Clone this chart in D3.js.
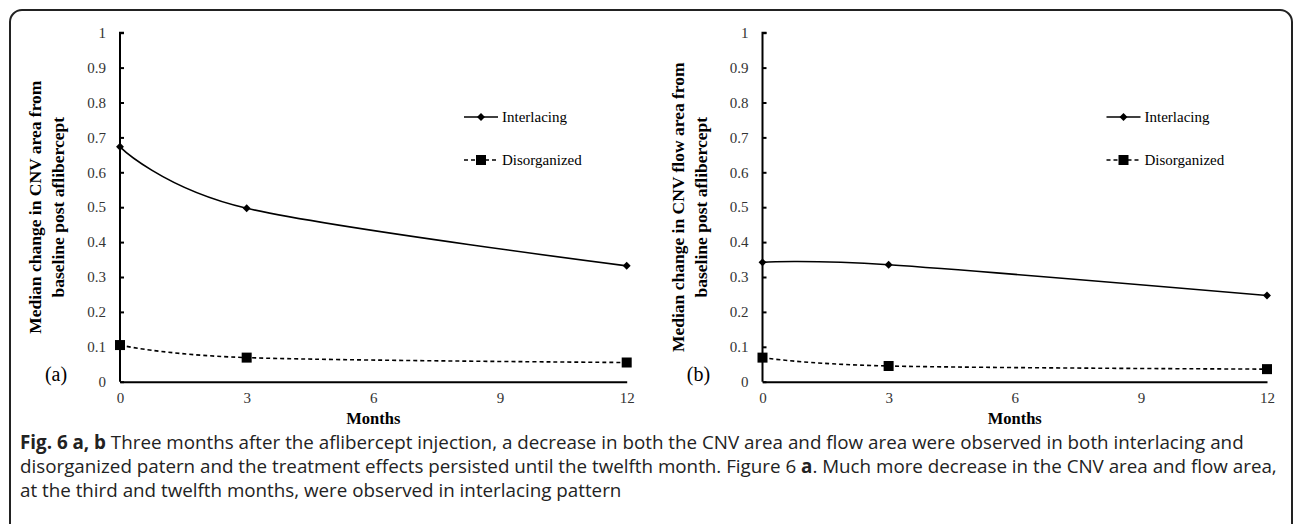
<!DOCTYPE html>
<html lang="en">
<head>
    <meta charset="utf-8" />
    <title>CNV area and flow area after aflibercept</title>
    <script src="https://d3js.org/d3.v7.min.js"></script>
    <style>
        body {
            margin: 0;
            background: white;
        }
        .serif {
            font-family: 'Liberation Serif', 'Times New Roman', serif;
        }
        .caption {
            font-family: 'Open Sans', sans-serif;
            font-size: 18.8px;
            fill: #222;
        }
    </style>
</head>
<body>
    <script>

        // Months on the x axis
        const months = [0, 3, 12];
        const xTickValues = [0, 3, 6, 9, 12];
        const yTickValues = [0, 0.1, 0.2, 0.3, 0.4, 0.5, 0.6, 0.7, 0.8, 0.9, 1];
        const yTickLabels = ["0", "0.1", "0.2", "0.3", "0.4", "0.5", "0.6", "0.7", "0.8", "0.9", "1"];

        // Panel (a): CNV area
        const interlacingArea = [0.673, 0.497, 0.332];
        const disorganizedArea = [0.105, 0.069, 0.055];

        // Panel (b): CNV flow area
        const interlacingFlow = [0.342, 0.335, 0.247];
        const disorganizedFlow = [0.069, 0.045, 0.036];

        const seriesNames = ["Interlacing", "Disorganized"];

        const width = 1295;
        const height = 524;

        const svg = d3.select("body")
            .append("svg")
            .attr("width", width)
            .attr("height", height);

        // Rounded frame round the figure and caption
        svg.append("rect")
            .attr("x", 10)
            .attr("y", 10)
            .attr("width", 1282)
            .attr("height", 560)
            .attr("rx", 12)
            .attr("fill", "none")
            .attr("stroke", "#222")
            .attr("stroke-width", 2);

        const yScale = d3.scaleLinear()
            .domain([0, 1])
            .range([381.7, 32.7]);

        function drawPanel(left, right, interlacing, disorganized, titleLines, letter) {
            const g = svg.append("g").attr("class", "serif");

            const xScale = d3.scaleLinear()
                .domain([0, 12])
                .range([left, right]);

            // Y axis with inside ticks
            const yAxis = d3.axisRight(yScale)
                .tickValues(yTickValues)
                .tickSize(4)
                .tickFormat("");
            const yg = g.append("g")
                .attr("transform", `translate(${left},0)`)
                .call(yAxis);
            yg.select(".domain")
                .attr("d", `M4,${yScale(1)}H0V${yScale(0)}`)
                .attr("stroke", "black")
                .attr("stroke-width", 2);
            yg.selectAll(".tick line").attr("stroke-width", 2);

            g.selectAll(".ylab")
                .data(yTickValues)
                .enter()
                .append("text")
                .attr("class", "ylab")
                .attr("x", left - 14)
                .attr("y", d => yScale(d))
                .attr("dy", "0.35em")
                .attr("text-anchor", "end")
                .attr("font-size", 15)
                .attr("fill", "#333")
                .text((d, i) => yTickLabels[i]);

            // X axis without ticks
            const xAxis = d3.axisBottom(xScale)
                .tickValues(xTickValues)
                .tickSize(0)
                .tickPadding(11);
            const xg = g.append("g")
                .attr("transform", `translate(0,${yScale(0)})`)
                .call(xAxis);
            xg.select(".domain")
                .attr("stroke", "black")
                .attr("stroke-width", 2);
            xg.selectAll("text")
                .attr("font-family", "'Liberation Serif', serif")
                .attr("font-size", 15)
                .attr("fill", "#333");

            g.append("text")
                .attr("x", (left + right) / 2)
                .attr("y", 424)
                .attr("text-anchor", "middle")
                .attr("font-size", 16.5)
                .attr("font-weight", "bold")
                .text("Months");

            // Y axis title on two lines
            const midY = (yScale(0) + yScale(1)) / 2;
            titleLines.forEach((line, i) => {
                g.append("text")
                    .attr("transform", `translate(${left - 85 + i * 23},${midY}) rotate(-90)`)
                    .attr("text-anchor", "middle")
                    .attr("dy", "0.35em")
                    .attr("font-size", 17.5)
                    .attr("font-weight", "bold")
                    .text(line);
            });

            g.append("text")
                .attr("x", left - 64)
                .attr("y", 374)
                .attr("dy", "0.35em")
                .attr("text-anchor", "middle")
                .attr("font-size", 20)
                .text(letter);

            const line = d3.line()
                .x((d, i) => xScale(months[i]))
                .y(d => yScale(d))
                .curve(d3.curveCardinal.tension(0));

            g.append("path")
                .datum(interlacing)
                .attr("d", line)
                .attr("fill", "none")
                .attr("stroke", "black")
                .attr("stroke-width", 1.6);

            g.append("path")
                .datum(disorganized)
                .attr("d", line)
                .attr("fill", "none")
                .attr("stroke", "black")
                .attr("stroke-width", 1.6)
                .attr("stroke-dasharray", "4,3");

            // Diamond markers
            g.selectAll(".diamond")
                .data(interlacing)
                .enter()
                .append("path")
                .attr("class", "diamond")
                .attr("d", d3.symbol(d3.symbolDiamond2, 40))
                .attr("transform", (d, i) => `translate(${xScale(months[i])},${yScale(d)})`)
                .attr("fill", "black");

            // Square markers
            g.selectAll(".square")
                .data(disorganized)
                .enter()
                .append("rect")
                .attr("class", "square")
                .attr("x", (d, i) => xScale(months[i]) - 5)
                .attr("y", d => yScale(d) - 5)
                .attr("width", 10)
                .attr("height", 10)
                .attr("fill", "black");

            // Legend
            const lx = left + 344;
            const legend = g.append("g");
            legend.append("line")
                .attr("x1", lx).attr("x2", lx + 34)
                .attr("y1", 117).attr("y2", 117)
                .attr("stroke", "black").attr("stroke-width", 1.6);
            legend.append("path")
                .attr("d", d3.symbol(d3.symbolDiamond2, 40))
                .attr("transform", `translate(${lx + 17},117)`);
            legend.append("text")
                .attr("x", lx + 38).attr("y", 117)
                .attr("dy", "0.35em")
                .attr("font-size", 15)
                .text(seriesNames[0]);

            legend.append("line")
                .attr("x1", lx).attr("x2", lx + 34)
                .attr("y1", 160).attr("y2", 160)
                .attr("stroke", "black").attr("stroke-width", 1.6)
                .attr("stroke-dasharray", "4,3");
            legend.append("rect")
                .attr("x", lx + 12).attr("y", 155)
                .attr("width", 10).attr("height", 10);
            legend.append("text")
                .attr("x", lx + 38).attr("y", 160)
                .attr("dy", "0.35em")
                .attr("font-size", 15)
                .text(seriesNames[1]);
        }

        drawPanel(120, 626.7, interlacingArea, disorganizedArea,
            ["Median change in CNV area from", "baseline post aflibercept"], "(a)");
        drawPanel(762.5, 1267, interlacingFlow, disorganizedFlow,
            ["Median change in CNV flow area from", "baseline post aflibercept"], "(b)");

        // Caption
        const caption = svg.append("text").attr("class", "caption");
        const l1 = caption.append("tspan").attr("x", 20).attr("y", 449);
        l1.append("tspan").attr("font-weight", "bold").text("Fig. 6 a, b");
        l1.append("tspan").text(" Three months after the aflibercept injection, a decrease in both the CNV area and flow area were observed in both interlacing and");
        const l2 = caption.append("tspan").attr("x", 20).attr("y", 473);
        l2.append("tspan").text("disorganized patern and the treatment effects persisted until the twelfth month. Figure 6 ");
        l2.append("tspan").attr("font-weight", "bold").text("a");
        l2.append("tspan").text(". Much more decrease in the CNV area and flow area,");
        caption.append("tspan").attr("x", 20).attr("y", 497)
            .text("at the third and twelfth months, were observed in interlacing pattern");

    </script>
</body>
</html>
